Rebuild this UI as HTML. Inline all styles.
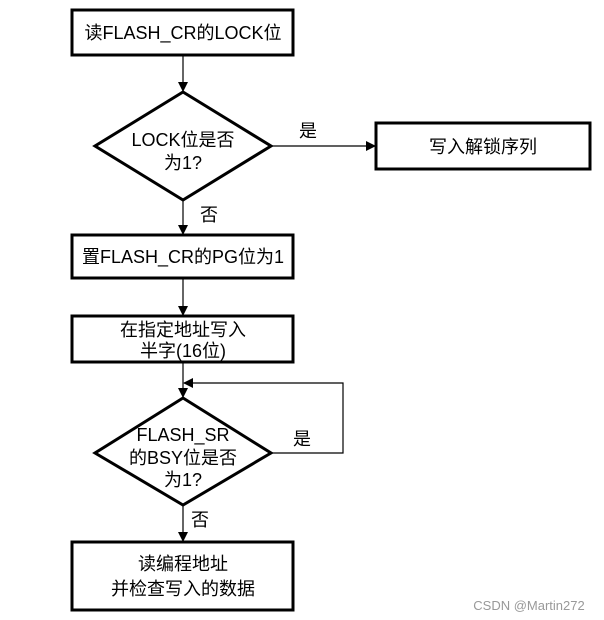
<!DOCTYPE html>
<html><head><meta charset="utf-8"><style>
html,body{margin:0;padding:0;background:#fff;}
svg{display:block;}
text{font-family:"Liberation Sans","Noto Sans CJK SC",sans-serif;font-size:18px;fill:#000;text-anchor:middle;}
</style></head><body>
<svg width="604" height="620" viewBox="0 0 604 620">
<defs><marker id="a" markerWidth="10" markerHeight="10" refX="9" refY="5" orient="auto" markerUnits="userSpaceOnUse"><path d="M0,0 L10,5 L0,10 z" fill="#000"/></marker></defs>
<g fill="none" stroke="#000" stroke-width="3">
<rect x="72" y="10" width="221" height="45"/>
<polygon points="183,92 271,146 183,200 95,146"/>
<rect x="72" y="235" width="221" height="43"/>
<rect x="72" y="316" width="221" height="46"/>
<polygon points="183,398 271,453 183,505 95,453"/>
<rect x="72" y="542" width="221" height="68"/>
<rect x="376" y="123" width="214" height="46"/>
</g>
<g stroke="#000" stroke-width="1.2" fill="none">
<line x1="183" y1="55" x2="183" y2="91" marker-end="url(#a)"/>
<line x1="271" y1="146" x2="375" y2="146" marker-end="url(#a)"/>
<line x1="183" y1="200" x2="183" y2="234" marker-end="url(#a)"/>
<line x1="183" y1="278" x2="183" y2="315" marker-end="url(#a)"/>
<line x1="183" y1="362" x2="183" y2="397" marker-end="url(#a)"/>
<polyline points="271,453 343,453 343,383 184,383" marker-end="url(#a)"/>
<line x1="183" y1="505" x2="183" y2="541" marker-end="url(#a)"/>
</g>
<text x="183" y="39">读FLASH_CR的LOCK位</text>
<text x="183" y="146">LOCK位是否</text>
<text x="183" y="169">为1?</text>
<text x="308" y="137">是</text>
<text x="209" y="221">否</text>
<text x="483" y="153">写入解锁序列</text>
<text x="183" y="263">置FLASH_CR的PG位为1</text>
<text x="183" y="336">在指定地址写入</text>
<text x="183" y="357">半字(16位)</text>
<text x="183" y="441">FLASH_SR</text>
<text x="183" y="464">的BSY位是否</text>
<text x="183" y="486">为1?</text>
<text x="302" y="445">是</text>
<text x="200" y="526">否</text>
<text x="183" y="570">读编程地址</text>
<text x="183" y="595">并检查写入的数据</text>
<text x="529" y="610" style="font-size:13px;fill:#999">CSDN @Martin272</text>
</svg>
</body></html>
